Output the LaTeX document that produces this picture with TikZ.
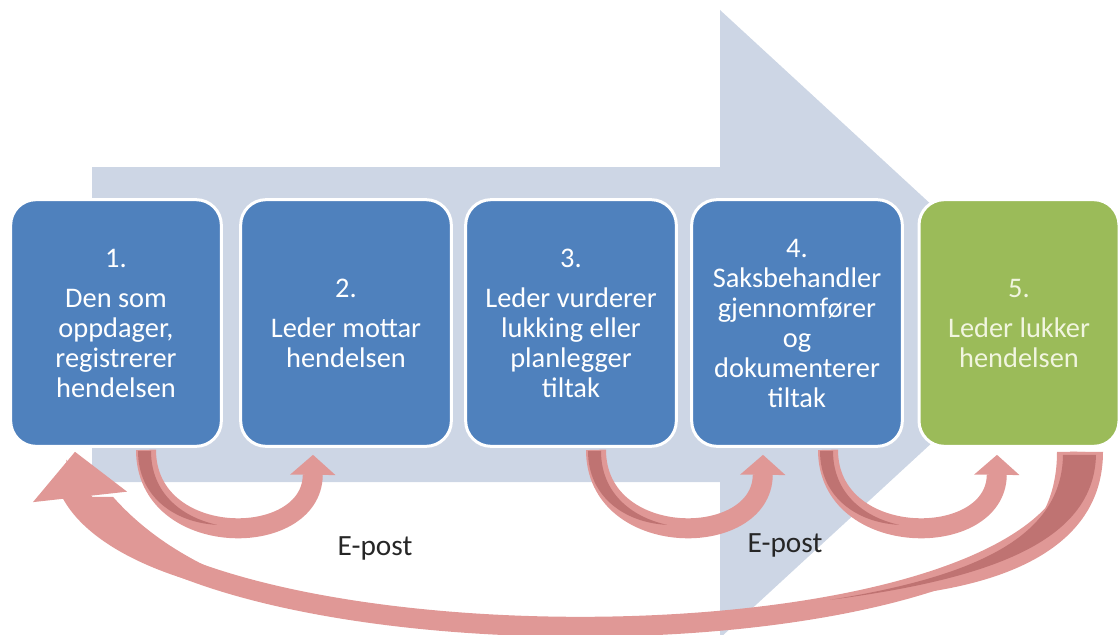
\documentclass[tikz,border=0pt]{standalone}
\usepackage{fontspec}
\setmainfont{Carlito}
\usetikzlibrary{arrows.meta}

\definecolor{boxblue}{HTML}{4F81BD}
\definecolor{boxgreen}{HTML}{9BBB59}
\definecolor{greentext}{HTML}{F1F5DF}
\definecolor{arrowgray}{HTML}{CDD6E5}
\definecolor{flowpink}{HTML}{E09896}
\definecolor{flowdark}{HTML}{BF7372}

\tikzset{
  stepbox/.style={draw=white, line width=2.25pt, rounded corners=19pt,
    minimum width=158pt, minimum height=185pt, inner sep=2pt,
    align=center, text=white, font=\fontsize{21.3}{22.5}\selectfont},
  bluebox/.style={stepbox, fill=boxblue},
  greenbox/.style={stepbox, fill=boxgreen, text=greentext, minimum width=150pt},
  flow/.style={flowpink, line width=15pt,
    -{Triangle[width=34pt,length=15pt,line width=0pt]}},
  bigflow/.style={flowpink, line width=15pt,
    -{Triangle[width=71pt,length=34pt,line width=0pt]}},
  tailshade/.pic={\fill[flowdark] (-8,1) -- (5,1) .. controls (5,43) and (35,67) .. (71,75)
    .. controls (30,73) and (-8,48) .. (-8,1) -- cycle;},
  mail/.style={text=black!85, font=\fontsize{22}{24}\selectfont}
}

\begin{document}
\begin{tikzpicture}[x=0.75pt,y=-0.75pt]
    \useasboundingbox (0,0) rectangle (1118,635);

    % big grey arrow behind the steps
    \fill[arrowgray] (92,167) -- (720,167) -- (720,10) -- (1061,324)
      -- (720,638) -- (720,482) -- (92,482) -- cycle;

    \node[bluebox] (b1) at (116,323) {1.\\[7.5pt]Den som\\oppdager,\\registrerer\\hendelsen};
    \node[bluebox] (b2) at (346,323) {2.\\[7.5pt]Leder mottar\\hendelsen};
    \node[bluebox] (b3) at (571,323) {3.\\[7.5pt]Leder vurderer\\lukking eller\\planlegger\\tiltak};
    \node[bluebox] (b4) at (797,323) {4.\\Saksbehandler\\gjennomfører\\og\\dokumenterer\\tiltak};
    \node[greenbox] (b5) at (1019,323) {5.\\[7.5pt]Leder lukker\\hendelsen};

    % return arrow 5 -> 1
    \draw[bigflow] ([shift={(61,4)}]b5.south) .. controls +(0,222) and +(120,183) .. ([shift={(-36,49)}]b1.south)
      -- ([shift={(-41,4)}]b1.south);
    \begin{scope}[shift={(b5.south)}]
      \fill[flowpink] (38,4) -- (84,4) .. controls (84,97) and (-9,142) .. (-149,150)
        .. controls (-29,134) and (38,92) .. (38,4) -- cycle;
      \fill[flowdark] (44,7) -- (77,7) .. controls (75,90) and (-19,130) .. (-189,152)
        .. controls (-39,128) and (43,87) .. (44,7) -- cycle;
    \end{scope}
    \begin{scope}[shift={(b1.south)}]
      \fill[flowpink] (-54,49) .. controls (-30,95) and (40,130) .. (134,147) -- (134,137)
        .. controls (60,110) and (20,75) .. (-3,49) -- cycle;
    \end{scope}

    % e-mail steps
    \draw[flow] ([shift={(30,2)}]b1.south) .. controls +(0,100) and +(-1,95) .. ([shift={(-33,7)}]b2.south);
    \pic at ([shift={(30,2)}]b1.south) {tailshade};

    \draw[flow] ([shift={(25,2)}]b3.south) .. controls +(0,100) and +(-1,95) .. ([shift={(-34,7)}]b4.south);
    \pic at ([shift={(25,2)}]b3.south) {tailshade};

    \draw[flow] ([shift={(31,2)}]b4.south) .. controls +(0,100) and +(-1,95) .. ([shift={(-22,7)}]b5.south);
    \pic at ([shift={(31,2)}]b4.south) {tailshade};

    \node[mail] (m1) at (375,548) {E-post};
    \node[mail] (m2) at (785,545) {E-post};
\end{tikzpicture}
\end{document}
